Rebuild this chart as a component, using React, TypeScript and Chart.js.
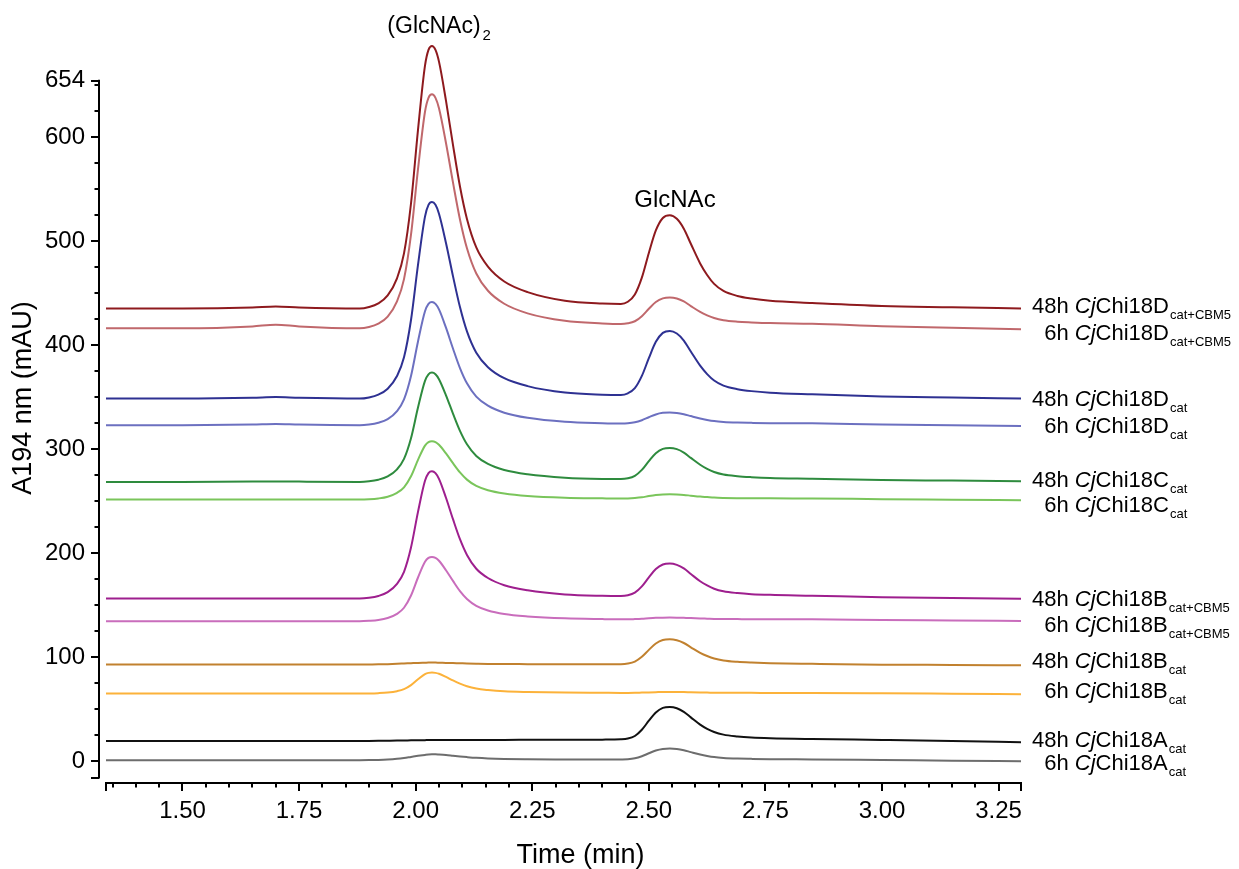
import React, { useEffect, useRef } from 'react';
import { Chart, registerables } from 'chart.js';

Chart.register(...registerables);

const FONT = '"Liberation Sans", Arial, Helvetica, sans-serif';

// Retention time grid (min)
const TIME = [1.336, 1.50, 1.65, 1.70, 1.75,
  1.88, 1.90, 1.92, 1.94, 1.96, 1.975, 1.99, 2.005, 2.02, 2.0275, 2.035, 2.0425, 2.05, 2.065, 2.08, 2.095, 2.11, 2.13, 2.155, 2.19, 2.24, 2.32, 2.40,
  2.44, 2.455, 2.47, 2.485, 2.50, 2.515, 2.53, 2.545, 2.56, 2.575, 2.59, 2.61, 2.625, 2.64, 2.66, 2.69, 2.72, 2.76, 2.85,
  3.00, 3.15, 3.298];

// Offset chromatogram traces (mAU)
const D_CBM5_48H = [435, 435, 436, 437, 436,
  435, 436.5, 440, 447.6, 464.1, 488, 536, 606.8, 668.5, 683.7, 687.5, 683.7, 672.4, 634.9, 592.4, 552.4, 521.2, 493.8, 475.3, 461, 450.8, 442.5, 439.8,
  439.4, 441.5, 448.5, 464.7, 488.5, 510.1, 522.1, 524.7, 521.3, 511.8, 497.3, 478.4, 467.3, 458.7, 451.9, 447.1, 444.6, 442.4, 440.3,
  437.4, 436.2, 435];
const D_CBM5_6H = [416, 416, 417.8, 419.5, 417.8,
  416, 417.3, 420.5, 427.3, 441.9, 463.3, 506, 569, 624.2, 637.6, 641, 637.6, 627.5, 594.2, 556.3, 520.7, 493, 468.7, 452.1, 439.6, 430.4, 423.2, 420.7,
  420.1, 420.8, 422.8, 427.7, 434.8, 441.3, 444.8, 445.6, 444.6, 441.8, 437.4, 431.8, 428.5, 425.9, 423.8, 422.4, 421.7, 421.0, 420.4,
  418, 416.5, 415];
const D_CAT_48H = [348.4, 348.4, 349.2, 349.9, 349.2,
  348.4, 349.5, 352.2, 357.9, 370.1, 388.1, 424.0, 477, 523.4, 534.7, 537.5, 534.7, 526.2, 498.1, 466.2, 436.4, 413, 392.5, 378.6, 368, 360.4, 354.2, 352.2,
  351.9, 353.5, 358.4, 370.2, 387.3, 403.0, 411.6, 413.5, 411.0, 404.2, 393.7, 380.1, 372.0, 365.8, 360.9, 357.5, 355.6, 354.1, 352.5,
  350.4, 349.4, 348.5];
const D_CAT_6H = [322.8, 322.8, 323.4, 324.0, 323.4,
  322.8, 323.5, 325.2, 328.7, 336.4, 347.7, 370.2, 403.4, 432.4, 439.5, 441.3, 439.5, 434.2, 416.6, 396.6, 377.8, 363.1, 350.3, 341.6, 334.8, 329.9, 326.1, 324.8,
  324.5, 324.7, 325.6, 327.6, 330.5, 333.2, 334.7, 335.0, 334.6, 333.4, 331.6, 329.3, 327.9, 326.8, 326.0, 325.4, 325.1, 324.8, 324.6,
  323.4, 322.7, 322];
const C_CAT_48H = [268.3, 268.3, 268.6, 268.8, 268.6,
  268.3, 268.9, 270.4, 273.6, 280.4, 290.4, 310.3, 339.8, 365.5, 371.8, 373.4, 371.8, 367.1, 351.6, 334.0, 317.4, 304.5, 293.3, 285.6, 279.8, 275.7, 272.4, 271.2,
  271.1, 271.8, 274.2, 279.9, 288.3, 295.9, 300.1, 301.0, 299.8, 296.5, 291.4, 284.8, 280.8, 277.8, 275.4, 273.8, 272.9, 272.1, 271.4,
  270.1, 269.6, 269];
const C_CAT_6H = [251.3, 251.3, 251.3, 251.3, 251.3,
  251.3, 251.6, 252.4, 254.1, 257.8, 263.1, 273.7, 289.5, 303.2, 306.6, 307.4, 306.6, 304.0, 295.7, 286.3, 277.4, 270.5, 264.4, 260.3, 257.2, 254.8, 253.1, 252.5,
  252.3, 252.4, 252.8, 253.5, 254.7, 255.7, 256.3, 256.4, 256.2, 255.8, 255.1, 254.2, 253.7, 253.2, 252.9, 252.7, 252.6, 252.5, 252.4,
  251.7, 251.2, 250.7];
const B_CBM5_48H = [156.2, 156.2, 156.2, 156.2, 156.2,
  156.2, 156.9, 158.6, 162.3, 170.3, 181.9, 205.2, 239.5, 269.4, 276.8, 278.6, 276.8, 271.3, 253.1, 232.5, 213.2, 198.1, 184.8, 175.9, 169.0, 164.1, 160.1, 158.8,
  158.6, 159.3, 161.8, 167.8, 176.5, 184.5, 188.9, 189.8, 188.5, 185.1, 179.8, 172.8, 168.8, 165.6, 163.1, 161.4, 160.4, 159.7, 158.9,
  157.4, 156.7, 156];
const B_CBM5_6H = [134.3, 134.3, 134.3, 134.3, 134.3,
  134.3, 134.7, 135.5, 137.4, 141.4, 147.3, 159.1, 176.4, 191.6, 195.3, 196.2, 195.3, 192.5, 183.4, 173.1, 163.3, 155.8, 149.2, 144.7, 141.3, 139.0, 137.1, 136.4,
  136.2, 136.2, 136.4, 136.7, 137.2, 137.6, 137.8, 137.9, 137.8, 137.6, 137.4, 137.0, 136.8, 136.6, 136.5, 136.4, 136.3, 136.3, 136.2,
  135.6, 135.1, 134.6];
const B_CAT_48H = [92.7, 92.7, 92.7, 92.7, 92.7,
  92.7, 92.8, 92.9, 93.1, 93.4, 93.7, 94.0, 94.3, 94.5, 94.6, 94.6, 94.6, 94.5, 94.3, 94.1, 93.9, 93.7, 93.5, 93.3, 93.2, 93.1, 93.0, 93.0,
  93.1, 93.7, 95.6, 100.2, 106.8, 112.9, 116.3, 117.0, 116.0, 113.4, 109.3, 104.0, 100.9, 98.5, 96.6, 95.3, 94.6, 94.0, 93.4,
  92.6, 92.3, 92];
const B_CAT_6H = [64.8, 64.8, 64.8, 64.8, 64.8,
  64.8, 64.9, 65.2, 65.8, 67.1, 69.0, 72.9, 78.5, 83.5, 84.7, 85.0, 84.7, 83.8, 80.8, 77.4, 74.3, 71.8, 69.6, 68.2, 67.0, 66.3, 65.7, 65.5,
  65.4, 65.4, 65.5, 65.7, 65.9, 66.1, 66.3, 66.3, 66.3, 66.2, 66.0, 65.8, 65.7, 65.6, 65.5, 65.5, 65.5, 65.4, 65.4,
  65.1, 64.6, 64.1];
const A_CAT_48H = [19.2, 19.2, 19.2, 19.2, 19.2,
  19.2, 19.3, 19.4, 19.5, 19.6, 19.7, 19.8, 19.9, 20.0, 20.1, 20.1, 20.1, 20.1, 20.1, 20.1, 20.1, 20.1, 20.1, 20.1, 20.2, 20.3, 20.4, 20.5,
  20.8, 21.5, 24.0, 30.0, 38.7, 46.6, 51.0, 51.9, 50.7, 47.2, 41.9, 35.0, 30.9, 27.8, 25.3, 23.6, 22.6, 21.9, 21.1,
  20.2, 19.2, 18];
const A_CAT_6H = [0.7, 0.7, 0.7, 0.7, 0.7,
  0.7, 0.8, 1.0, 1.4, 2.1, 2.9, 3.9, 4.9, 5.8, 6.2, 6.4, 6.4, 6.2, 5.7, 5.0, 4.3, 3.7, 3.0, 2.4, 1.9, 1.6, 1.4, 1.3,
  1.4, 1.6, 2.5, 4.5, 7.4, 10.1, 11.6, 11.9, 11.5, 10.3, 8.5, 6.2, 4.8, 3.7, 2.9, 2.3, 2.0, 1.7, 1.5,
  0.9, 0.3, -0.3];

const SERIES = [D_CBM5_48H, D_CBM5_6H, D_CAT_48H, D_CAT_6H, C_CAT_48H, C_CAT_6H, B_CBM5_48H, B_CBM5_6H, B_CAT_48H, B_CAT_6H, A_CAT_48H, A_CAT_6H];
const COLORS = ['#8E1A1E', '#C0686C', '#2E3192', '#6C70C0', '#2E8B3E', '#7AC55B', '#9E1F8E', '#C96DBC', '#C1812F', '#FCB23A', '#111111', '#6D6D6D'];

// Trace labels
const LABEL_HOURS = ['48h', '6h', '48h', '6h', '48h', '6h', '48h', '6h', '48h', '6h', '48h', '6h'];
const LABEL_ENZYME = ['Chi18D', 'Chi18D', 'Chi18D', 'Chi18D', 'Chi18C', 'Chi18C', 'Chi18B', 'Chi18B', 'Chi18B', 'Chi18B', 'Chi18A', 'Chi18A'];
const LABEL_SUB = ['cat+CBM5', 'cat+CBM5', 'cat', 'cat', 'cat', 'cat', 'cat+CBM5', 'cat+CBM5', 'cat', 'cat', 'cat', 'cat'];
const LABEL_AT = [430.4, 404.8, 341.3, 315.0, 263.4, 239.7, 149.0, 124.3, 89.1, 60.2, 13.7, -8.7];

// Axis ticks
const X_TICKS = [1.5, 1.75, 2.0, 2.25, 2.5, 2.75, 3.0, 3.25];
const Y_TICKS = [0, 100, 200, 300, 400, 500, 600, 654];
const Y_AXIS_MIN = -16;
const Y_AXIS_MAX = 654;

// Peak annotations
const PEAK_DIMER = 2.035;
const PEAK_MONO = 2.556;

const axesPlugin = {
  id: 'originAxes',
  afterDraw(chart: any) {
    const { ctx, chartArea } = chart;
    const x = chart.scales.x;
    const y = chart.scales.y;
    ctx.save();
    ctx.strokeStyle = '#000';
    ctx.fillStyle = '#000';
    ctx.lineWidth = 2;
    ctx.lineCap = 'butt';

    // Y axis (offset left of plot)
    const yx = chartArea.left - 7;
    ctx.beginPath();
    ctx.moveTo(yx, y.getPixelForValue(Y_AXIS_MAX) - 1);
    ctx.lineTo(yx, y.getPixelForValue(Y_AXIS_MIN) + 1);
    ctx.stroke();
    const yTick = (v: number, len: number) => {
      const p = Math.round(y.getPixelForValue(v));
      ctx.beginPath();
      ctx.moveTo(yx, p);
      ctx.lineTo(yx - len, p);
      ctx.stroke();
    };
    Y_TICKS.forEach((v) => yTick(v, 8));
    yTick(Y_AXIS_MIN, 8);
    for (let v = 25; v < Y_AXIS_MAX; v += 25) {
      if (v % 100 !== 0) yTick(v, 4.5);
    }

    // X axis
    const xy = chartArea.bottom;
    ctx.beginPath();
    ctx.moveTo(chartArea.left - 1, xy);
    ctx.lineTo(chartArea.right + 1, xy);
    ctx.stroke();
    const xTick = (v: number, len: number) => {
      const p = Math.round(x.getPixelForValue(v));
      ctx.beginPath();
      ctx.moveTo(p, xy);
      ctx.lineTo(p, xy + len);
      ctx.stroke();
    };
    X_TICKS.forEach((v) => xTick(v, 8));
    xTick(x.min, 8);
    xTick(x.max, 8);
    for (let i = 27; i <= 65; i++) {
      if (i % 5 !== 0) xTick(i * 0.05, 4.5);
    }

    // Axis titles
    ctx.font = `27px ${FONT}`;
    ctx.textAlign = 'center';
    ctx.textBaseline = 'alphabetic';
    ctx.fillText('Time (min)', 580.5, 863);
    ctx.save();
    ctx.translate(31, 398);
    ctx.rotate(-Math.PI / 2);
    ctx.fillText('A194 nm (mAU)', 0, 0);
    ctx.restore();

    // Peak annotations
    ctx.font = `23px ${FONT}`;
    ctx.textAlign = 'left';
    const dimerTxt = '(GlcNAc)';
    const dw = ctx.measureText(dimerTxt).width;
    const dx = x.getPixelForValue(PEAK_DIMER) + 2 - dw / 2;
    ctx.fillText(dimerTxt, dx, 33);
    ctx.font = `15px ${FONT}`;
    ctx.fillText('2', dx + dw + 2, 40);
    ctx.font = `24px ${FONT}`;
    ctx.textAlign = 'center';
    ctx.fillText('GlcNAc', x.getPixelForValue(PEAK_MONO), 207);

    // Trace labels
    ctx.textAlign = 'left';
    const MAIN = `22px ${FONT}`;
    const ITAL = `italic 22px ${FONT}`;
    const SUB = `13px ${FONT}`;
    ctx.font = MAIN;
    const indent = ctx.measureText('4').width;
    LABEL_AT.forEach((val, i) => {
      const base = y.getPixelForValue(val);
      let cx = chartArea.right + 11 + (LABEL_HOURS[i] === '6h' ? indent : 0);
      ctx.font = MAIN;
      const h = LABEL_HOURS[i] + ' ';
      ctx.fillText(h, cx, base);
      cx += ctx.measureText(h).width;
      ctx.font = ITAL;
      ctx.fillText('Cj', cx, base);
      cx += ctx.measureText('Cj').width;
      ctx.font = MAIN;
      ctx.fillText(LABEL_ENZYME[i], cx, base);
      cx += ctx.measureText(LABEL_ENZYME[i]).width + 1;
      ctx.font = SUB;
      ctx.fillText(LABEL_SUB[i], cx, base + 6);
    });
    ctx.restore();
  },
};

export default function App() {
  const ref = useRef<HTMLCanvasElement>(null);
  useEffect(() => {
    if (!ref.current) return;
    const chart = new Chart(ref.current, {
      type: 'line',
      data: {
        datasets: SERIES.map((s, i) => ({
          data: TIME.map((t, j) => ({ x: t, y: s[j] })),
          borderColor: COLORS[i],
          backgroundColor: COLORS[i],
          borderWidth: 2,
          pointRadius: 0,
          fill: false,
          cubicInterpolationMode: 'monotone' as const,
        })),
      },
      options: {
        animation: false,
        responsive: false,
        devicePixelRatio: 1,
        layout: { padding: { top: 20, right: 218, left: 0, bottom: 0 } },
        plugins: { legend: { display: false }, tooltip: { enabled: false } },
        scales: {
          x: {
            type: 'linear',
            min: 1.336,
            max: 3.298,
            grid: { display: false, drawTicks: false },
            border: { display: false },
            afterBuildTicks: (s: any) => {
              s.ticks = X_TICKS.map((v) => ({ value: v }));
            },
            afterFit: (s: any) => {
              s.height = 86;
              s.paddingLeft = 0;
              s.paddingRight = 0;
            },
            ticks: {
              font: { size: 24, family: FONT },
              color: '#000',
              padding: 14,
              maxRotation: 0,
              autoSkip: false,
              callback: (v: any) => Number(v).toFixed(2),
            },
          },
          y: {
            type: 'linear',
            min: -21.2,
            max: 712.45,
            grid: { display: false, drawTicks: false },
            border: { display: false },
            afterBuildTicks: (s: any) => {
              s.ticks = Y_TICKS.map((v) => ({ value: v }));
            },
            afterFit: (s: any) => {
              s.width = 106;
              s.paddingTop = 0;
              s.paddingBottom = 0;
            },
            ticks: {
              font: { size: 24, family: FONT },
              color: '#000',
              padding: 21,
              autoSkip: false,
              callback: (v: any) => String(v),
            },
          },
        },
      },
      plugins: [axesPlugin],
    });
    return () => chart.destroy();
  }, []);
  return (
    <div style={{ position: 'absolute', left: 0, top: 0, width: 1239, height: 869, background: '#fff' }}>
      <canvas ref={ref} width={1239} height={869} style={{ display: 'block', width: 1239, height: 869 }} />
    </div>
  );
}
